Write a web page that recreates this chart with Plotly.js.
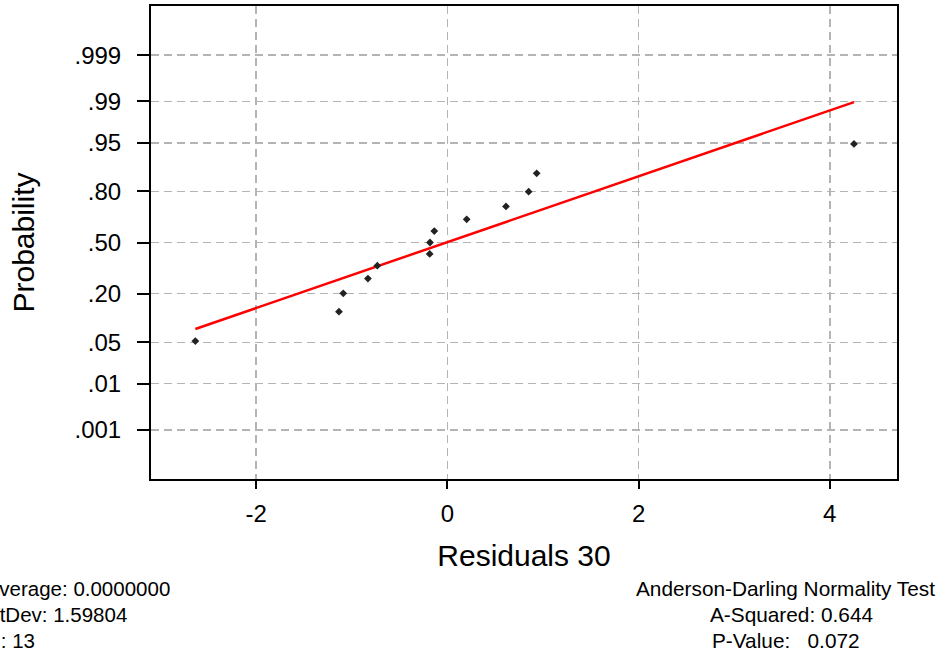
<!DOCTYPE html>
<html>
<head>
<meta charset="utf-8">
<script src="https://cdn.plot.ly/plotly-3.0.1.min.js"></script>
<style>
  html, body { margin: 0; padding: 0; background: #ffffff; }
  #chart { width: 943px; height: 654px; }
</style>
</head>
<body>
<div id="chart"></div>
<script>
// Sorted residuals and their plotting-position probabilities
const residuals = [-2.636, -1.134, -1.089, -0.831, -0.733, -0.185, -0.182, -0.137, 0.202, 0.613, 0.850, 0.934, 4.253];
const probabilities = [0.052, 0.127, 0.201, 0.276, 0.351, 0.425, 0.500, 0.575, 0.649, 0.724, 0.799, 0.873, 0.948];

// Fitted normal reference line (endpoints as residual / probability)
const fitResiduals = [-2.636, 4.253];
const fitProbabilities = [0.077, 0.9897];

// Probability-scale ticks and residual ticks
const probTicks = [0.001, 0.01, 0.05, 0.20, 0.50, 0.80, 0.95, 0.99, 0.999];
const probTickLabels = ['.001', '.01', '.05', '.20', '.50', '.80', '.95', '.99', '.999'];
const residualTicks = [-2, 0, 2, 4];
const residualTickLabels = ['-2', '0', '2', '4'];

// Summary statistics printed under the plot
const summaryLeft = ['Average: 0.0000000', 'StDev: 1.59804', 'N: 13'];
const summaryRight = ['Anderson-Darling Normality Test', 'A-Squared: 0.644', 'P-Value:\u00A0\u00A0\u00A00.072'];

// Inverse standard normal CDF (Acklam's rational approximation),
// used to map probabilities onto a linear normal-score axis.
function probit(p) {
  const a = [-3.969683028665376e+01, 2.209460984245205e+02, -2.759285104469687e+02,
             1.383577518672690e+02, -3.066479806614716e+01, 2.506628277459239e+00];
  const b = [-5.447609879822406e+01, 1.615858368580409e+02, -1.556989798598866e+02,
             6.680131188771972e+01, -1.328068155288572e+01];
  const c = [-7.784894002430293e-03, -3.223964580411365e-01, -2.400758277161838e+00,
             -2.549732539343734e+00, 4.374664141464968e+00, 2.938163982698783e+00];
  const d = [7.784695709041462e-03, 3.224671290700398e-01, 2.445134137142996e+00,
             3.754408661907416e+00];
  const plow = 0.02425, phigh = 1 - plow;
  let q, r;
  if (p < plow) {
    q = Math.sqrt(-2 * Math.log(p));
    return (((((c[0]*q + c[1])*q + c[2])*q + c[3])*q + c[4])*q + c[5]) /
           ((((d[0]*q + d[1])*q + d[2])*q + d[3])*q + 1);
  }
  if (p <= phigh) {
    q = p - 0.5; r = q * q;
    return (((((a[0]*r + a[1])*r + a[2])*r + a[3])*r + a[4])*r + a[5]) * q /
           (((((b[0]*r + b[1])*r + b[2])*r + b[3])*r + b[4])*r + 1);
  }
  q = Math.sqrt(-2 * Math.log(1 - p));
  return -(((((c[0]*q + c[1])*q + c[2])*q + c[3])*q + c[4])*q + c[5]) /
          ((((d[0]*q + d[1])*q + d[2])*q + d[3])*q + 1);
}

const W = 943, H = 654;
const M = { l: 151, r: 46, t: 6, b: 175 };
const plotW = W - M.l - M.r, plotH = H - M.t - M.b;
const px2x = px => (px - M.l) / plotW;
const py2y = py => (H - M.b - py) / plotH;

const FONT = 'Liberation Sans, Arial, Helvetica, sans-serif';
const gridStyle = { showgrid: true, gridcolor: '#b4b4b4', gridwidth: 1.5, griddash: '8px,5px' };

const traces = [
  {
    type: 'scatter', mode: 'lines',
    x: fitResiduals, y: fitProbabilities.map(probit),
    line: { color: '#ff0000', width: 2.5 },
    hoverinfo: 'skip'
  },
  {
    type: 'scatter', mode: 'markers',
    x: residuals, y: probabilities.map(probit),
    marker: { symbol: 'diamond', size: 6, color: '#222222', line: { width: 0 } },
    hoverinfo: 'skip'
  }
];

// The summary block sits against the page edges; the left block starts
// just past the left border, so its first letters fall off the page.
const annotations = [];
const lineY = [588, 614, 640];
const rightX = [634, 708, 710];
summaryLeft.forEach((t, i) => annotations.push({
  text: t, xref: 'paper', yref: 'paper', x: px2x(-16.5), y: py2y(lineY[i]),
  xanchor: 'left', yanchor: 'middle', showarrow: false,
  font: { family: FONT, size: 20.5, color: '#000' }
}));
summaryRight.forEach((t, i) => annotations.push({
  text: t, xref: 'paper', yref: 'paper', x: px2x(rightX[i]), y: py2y(lineY[i]),
  xanchor: 'left', yanchor: 'middle', showarrow: false,
  font: { family: FONT, size: 20.8, color: '#000' }
}));

const layout = {
  width: W, height: H,
  margin: { l: M.l, r: M.r, t: M.t, b: M.b, pad: 0 },
  paper_bgcolor: '#ffffff', plot_bgcolor: '#ffffff',
  showlegend: false,
  font: { family: FONT, color: '#000' },
  xaxis: Object.assign({
    range: [-3.10, 4.703], tickmode: 'array', tickvals: residualTicks, ticktext: residualTickLabels,
    ticks: 'outside', ticklen: 8, tickwidth: 2, tickcolor: '#000',
    showline: true, linewidth: 2, linecolor: '#000', mirror: true,
    zeroline: false, tickfont: { family: FONT, size: 24, color: '#000' },
    ticklabelstandoff: 4,
    title: { text: 'Residuals 30', font: { family: FONT, size: 30, color: '#000' }, standoff: 19 }
  }, gridStyle),
  yaxis: Object.assign({
    range: [-3.9, 3.9], tickmode: 'array',
    tickvals: probTicks.map(probit), ticktext: probTickLabels,
    ticks: 'outside', ticklen: 12, tickwidth: 2, tickcolor: '#000',
    showline: true, linewidth: 2, linecolor: '#000', mirror: true,
    zeroline: false, tickfont: { family: FONT, size: 24, color: '#000' },
    ticklabelstandoff: 11,
    title: { text: 'Probability', font: { family: FONT, size: 30, color: '#000' }, standoff: 31 }
  }, gridStyle),
  annotations: annotations
};

Plotly.newPlot('chart', traces, layout, { staticPlot: true, displayModeBar: false });
</script>
</body>
</html>
